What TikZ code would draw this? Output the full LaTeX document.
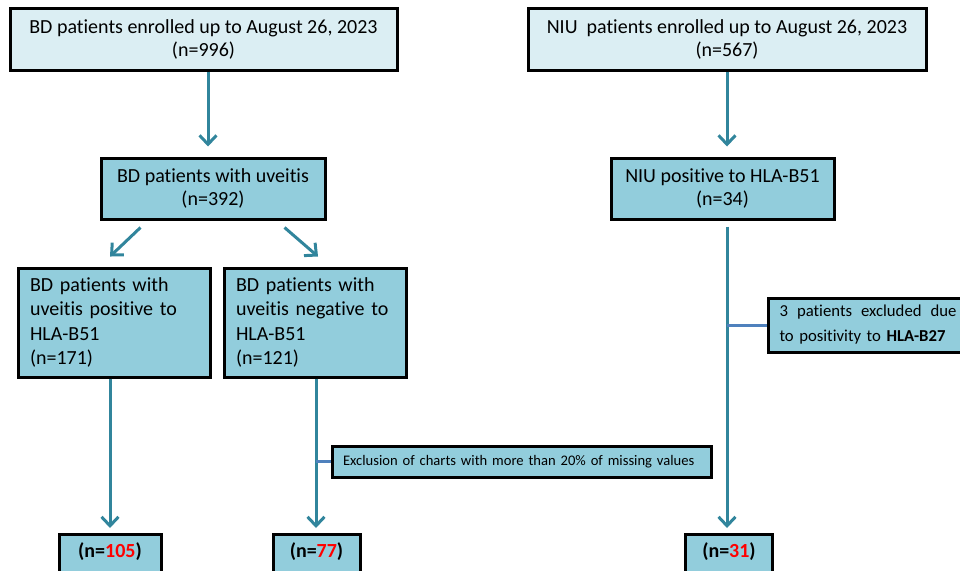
\documentclass[tikz,border=0pt]{standalone}
\usepackage{fontspec}
\setmainfont{Carlito}[Ligatures=NoCommon]
\usetikzlibrary{arrows.meta,positioning,calc}
\definecolor{lightaqua}{HTML}{DBEEF3}
\definecolor{aqua}{HTML}{92CDDC}
\definecolor{darkaqua}{HTML}{31859C}
\definecolor{stubblue}{HTML}{4F81BD}

\begin{document}
\begin{tikzpicture}[
    x=1pt, y=-1pt,
    topbox/.style={rectangle, draw, line width=3pt, fill=lightaqua, align=center, inner sep=0pt, font=\fontsize{20}{23}\selectfont},
    midbox/.style={rectangle, draw, line width=3pt, fill=aqua, align=center, inner sep=0pt, font=\fontsize{20}{23}\selectfont},
    subbox/.style={rectangle, draw, line width=3pt, fill=aqua, align=left, inner xsep=12pt, inner ysep=0pt, minimum height=109pt, font=\fontsize{20}{24.5}\selectfont},
    exclbox/.style={rectangle, draw, line width=3pt, fill=aqua, align=left, inner xsep=11pt, inner ysep=0pt},
    countbox/.style={rectangle, draw, line width=3pt, fill=aqua, align=center, anchor=north, inner xsep=0pt, inner ysep=4pt, text height=19pt, text depth=15pt, font=\bfseries\fontsize{20}{24}\selectfont},
    arrow/.style={-{Straight Barb[length=9pt,width=17pt]}, line width=3pt, draw=darkaqua},
    stub/.style={line width=3pt, draw=stubblue}
]
\useasboundingbox (0,0) rectangle (960,570);

% Enrolment
\node[topbox, minimum width=387pt, minimum height=62pt] (bdall) at (203.5,39) {BD patients enrolled up to August 26, 2023\\(n=996)};
\node[topbox, minimum width=398pt, minimum height=62pt] (niuall) at (727,39) {NIU\ \ patients enrolled up to August 26, 2023\\(n=567)};

% Uveitis / HLA-B51
\node[midbox, minimum width=224pt, minimum height=61pt] (uveitis) at (213,188.5) {BD patients with uveitis\\(n=392)};
\node[midbox, minimum width=223pt, minimum height=61pt] (niupos) at (722.5,188.5) {NIU positive to HLA-B51\\(n=34)};

% Split by HLA-B51
\node[subbox, text width=168pt] (bdpos) at (114,322.5) {BD patients with\\uveitis positive to\\HLA-B51\\(n=171)};
\node[subbox, text width=158pt] (bdneg) at (315,322.5) {BD patients with\\uveitis negative to\\HLA-B51\\(n=121)};

% Exclusions
\node[exclbox, text width=357pt, minimum height=31pt, font=\fontsize{14.6}{17}\selectfont] (chartexcl) at (521.5,461.5) {Exclusion of charts with more than 20\% of missing values};
\node[exclbox, text width=177pt, minimum height=54pt, font=\fontsize{16.7}{25}\selectfont] (b27excl) at (868,325) {3\hfill patients\hfill excluded\hfill due\\to positivity to \textbf{HLA-B27}};

% Final counts
\node[countbox, minimum width=102pt] (final1) at (110,533) {(n=\textcolor{red}{105})};
\node[countbox, minimum width=87pt] (final2) at (316.5,533) {(n=\textcolor{red}{77})};
\node[countbox, minimum width=87pt] (final3) at (729,533) {(n=\textcolor{red}{31})};

% Arrows
\draw[arrow] ([xshift=4.5pt]bdall.south) -- ([xshift=-5pt,yshift=10pt]uveitis.north);
\draw[arrow] ([xshift=41pt,yshift=-7pt]uveitis.south west) -- ([xshift=-4pt,yshift=10pt]bdpos.north);
\draw[arrow] ([xshift=-42pt,yshift=-7pt]uveitis.south east) -- ([xshift=3pt,yshift=10pt]bdneg.north);
\draw[arrow] (niuall.south) -- ([xshift=4.5pt,yshift=10pt]niupos.north);
\draw[arrow] ([xshift=-4pt]bdpos.south) -- ([yshift=5pt]final1.north);
\draw[arrow] ([xshift=1pt]bdneg.south) -- ([xshift=-0.5pt,yshift=5pt]final2.north);
\draw[arrow] ([xshift=4.5pt,yshift=-6pt]niupos.south) -- ([xshift=-2pt,yshift=5pt]final3.north);

% Side connectors
\coordinate (chartjoin) at (chartexcl.west -| bdneg.south);
\coordinate (b27join) at (b27excl.west -| niuall.south);
\draw[stub] ([xshift=1pt]chartjoin) -- (chartexcl.west);
\draw[stub] (b27join) -- (b27excl.west);

\end{tikzpicture}
\end{document}
